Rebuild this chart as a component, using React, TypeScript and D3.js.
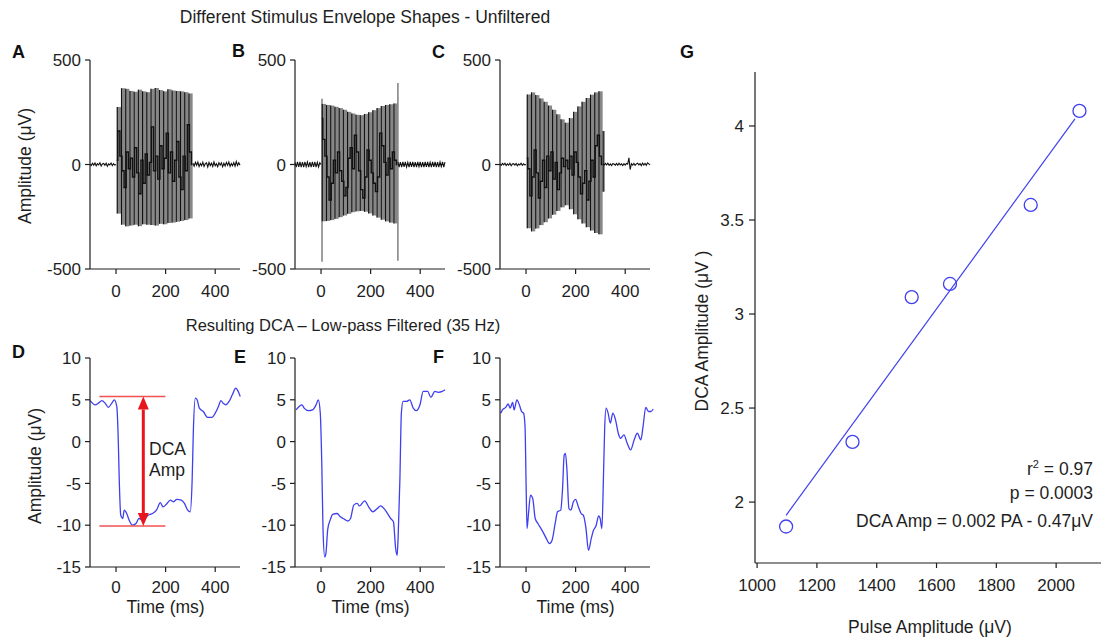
import React from 'react';
import * as d3 from 'd3';

const FONT = '"Liberation Sans", Arial, Helvetica, sans-serif';
const INK = '#1e1e1e';
const BLUE = '#3f3ff0';
const GRAY = '#878787';
const RED = '#e8161c';
const RED_LIGHT = '#f05050';

// ---- axis ticks ----
const timeTicks = [0, 200, 400];
const stimTicks = [-500, 0, 500];
const dcaTicks = [-15, -10, -5, 0, 5, 10];
const pulseTicks = [1000, 1200, 1400, 1600, 1800, 2000];
const dcaAmpTicks = [2, 2.5, 3, 3.5, 4];

// ---- stimulus pulse trains (ms, µV) ----
const pulseOnsets = [3, 20, 37, 54, 71, 88, 105, 122, 139, 156, 173, 190, 207, 224, 241, 258, 275, 292];
const cOnsets = [3, 20, 37, 54, 71, 88, 105, 122, 139, 156, 173, 190, 207, 224, 241, 258, 275, 292, 309];

const aUpper = [275, 365, 362, 352, 348, 358, 350, 346, 362, 366, 356, 350, 360, 354, 352, 350, 346, 340];
const aLower = [-235, -288, -296, -292, -288, -295, -286, -288, -290, -292, -284, -286, -280, -278, -274, -270, -266, -258];

const bUpper = [290, 285, 282, 276, 270, 262, 252, 244, 238, 236, 242, 250, 260, 270, 280, 285, 288, 292];
const bLower = [-272, -270, -266, -260, -252, -244, -236, -228, -224, -222, -226, -234, -244, -254, -264, -272, -278, -282];
const bSpikeTimes = [4, 310];
const bSpikeHigh = [315, 390];
const bSpikeLow = [-465, -460];

const cUpper = [335, 345, 332, 316, 300, 282, 262, 240, 216, 200, 222, 252, 278, 300, 318, 334, 345, 350, 160];
const cLower = [-305, -320, -306, -290, -276, -258, -240, -222, -205, -195, -214, -238, -262, -282, -300, -316, -328, -334, -130];

// sampled waveform inside each train
const midTimes = [3, 11, 20, 28, 37, 45, 54, 62, 71, 79, 88, 96, 105, 113, 122, 130, 139, 147, 156, 164, 173, 181, 190, 198, 207, 215, 224, 232, 241, 249, 258, 266, 275, 283, 292, 300, 308];
const aMid = [20, 160, 40, -30, -110, 60, -20, 30, -60, 80, -40, -140, 20, -90, 50, -50, 10, 180, -30, 40, -70, 90, -20, 30, 150, -40, 60, -80, 20, 110, -60, -120, 40, -30, 190, 60, 0];
const bMid = [220, 120, 40, -60, -170, -90, 20, -40, 60, -30, -80, -150, -110, 30, 80, -20, 140, 60, -30, -120, -160, -60, 70, 20, -40, -90, -130, -60, 150, 90, 10, -50, 30, -20, 60, 20, 0];
const cMid = [30, -20, -150, -60, 70, -40, -160, -80, 20, -110, 40, -30, 60, -70, 10, -120, -40, 30, -10, 20, -20, 40, -50, 60, 10, -60, -140, -90, -30, -170, -80, 20, -60, 90, 140, 40, 0];

// baseline before (-105..0 ms) and after (310..500 ms) the train, 5 ms steps
const preTimes = d3.range(-105, 0.1, 5);
const postTimes = d3.range(310, 500.1, 5);
const aPre = [2, -5, 6, -3, 7, -6, 4, -2, 8, -7, 3, 5, -4, 6, -8, 3, -2, 7, -5, 4, -3, 0];
const bPre = [10, -12, 13, -11, 12, -13, 11, -12, 13, -10, 12, -12, 11, -13, 12, -11, 13, -12, 10, -12, 8, 0];
const cPre = [3, -4, 5, -2, 6, -5, 3, -3, 6, -6, 2, 4, -3, 5, -6, 2, -2, 6, -4, 3, -2, 0];
const aPost = [6, -8, 10, -4, 12, -10, 5, -6, 11, -9, 4, 8, -12, 10, -5, 7, -9, 12, -6, 4, -10, 9, -3, 8, -11, 6, -7, 10, -4, 12, -9, 5, -6, 9, -8, 14, -5, 8, -3];
const bPost = [12, -13, 11, -12, 13, -11, 12, -12, 10, -13, 12, -11, 13, -12, 11, -12, 13, -10, 12, -13, 11, -12, 12, -11, 13, -12, 10, -12, 13, -11, 12, -13, 11, -12, 12, -10, 13, -12, 11];
const cPost = [4, -3, 5, -2, 6, -4, 3, -5, 4, 2, -3, 5, -4, 6, -2, 3, -5, 4, -3, 5, 2, 32, -24, 4, -3, 5, -4, 3, 6, -2, 4, -5, 7, -3, 5, -4, 8, 3, -2];

// ---- low-pass filtered DCA traces (ms, µV) ----
const dTimes = [-104, -84, -71, -57, -44, -31, -17, -7, 3, 9, 13, 19, 27, 33, 43, 53, 67, 80, 93, 109, 129, 147, 163, 179, 189, 203, 219, 232, 245, 263, 276, 289, 299, 307, 312, 320, 327, 336, 352, 369, 387, 400, 413, 423, 432, 443, 456, 469, 483, 493, 501];
const dValues = [4.9, 4.4, 4.6, 4.9, 4.6, 4.1, 4.6, 5.0, 4.2, 0.2, -4.6, -8.8, -9.2, -8.2, -8.6, -9.4, -10.0, -9.8, -9.2, -9.4, -8.8, -8.6, -8.2, -7.3, -7.8, -7.5, -7.0, -7.2, -6.9, -7.0, -7.4, -8.2, -8.4, -4.6, 1.4, 5.2, 5.0, 4.0, 3.6, 2.9, 2.9, 3.4, 4.2, 4.9, 4.6, 4.4, 4.8, 5.6, 6.4, 6.0, 5.4];
const eTimes = [-101, -88, -77, -68, -51, -34, -20, -11, -3, 3, 8, 15, 20, 27, 38, 47, 65, 78, 95, 108, 119, 132, 146, 155, 176, 192, 209, 227, 240, 259, 281, 292, 301, 307, 311, 318, 324, 331, 345, 358, 372, 385, 399, 412, 430, 443, 459, 473, 489, 500];
const eValues = [3.8, 4.2, 4.4, 4.0, 3.7, 3.8, 4.4, 5.0, 3.4, -2.6, -10.5, -13.8, -13.3, -10.5, -9.3, -8.7, -8.6, -9.0, -9.3, -9.5, -9.2, -7.6, -7.4, -7.7, -7.1, -7.8, -8.4, -8.0, -7.7, -8.2, -9.2, -9.6, -12.8, -13.6, -11.4, -4.6, 3.4, 4.8, 4.8, 5.0, 4.0, 3.7, 4.4, 6.0, 6.0, 5.3, 6.0, 5.9, 6.0, 6.2];
const fTimes = [-102, -95, -82, -72, -64, -54, -48, -37, -27, -18, -10, -4, 0, 4, 10, 18, 27, 37, 48, 68, 82, 95, 105, 118, 127, 140, 147, 154, 159, 165, 173, 181, 191, 200, 211, 222, 231, 241, 252, 263, 272, 282, 293, 299, 306, 312, 317, 323, 331, 340, 350, 361, 372, 381, 395, 408, 422, 436, 449, 463, 472, 483, 494, 504, 513];
const fValues = [3.4, 3.8, 4.1, 4.5, 4.0, 4.7, 3.8, 5.0, 4.4, 3.6, 3.4, 1.8, -4.6, -10.4, -8.6, -6.4, -6.8, -9.2, -9.8, -10.8, -11.6, -12.2, -11.8, -9.7, -8.4, -8.2, -5.8, -1.6, -1.4, -3.4, -8.0, -8.2, -7.2, -6.9, -7.8, -8.6, -8.8, -10.2, -13.0, -11.6, -10.6, -10.1, -8.9, -9.2, -10.4, -4.6, 1.4, 4.0, 3.4, 2.2, 3.4, 2.6, 1.0, 0.4, 0.8, -0.2, -1.0, 0.2, 1.0, 0.2, 1.8, 4.1, 3.6, 3.6, 3.9];

// DCA amplitude annotation in panel D
const dcaTop = 5.4;
const dcaBottom = -10.1;
const dcaSpan = [-67, 199];
const dcaArrowTime = 110;

// ---- panel G: pulse amplitude vs DCA amplitude ----
const pulseAmp = [1097, 1319, 1517, 1645, 1915, 2078];
const dcaAmp = [1.87, 2.32, 3.09, 3.16, 3.58, 4.08];
const fitRange = [1097, 2063];

// ---- layout ----
const panelLeft = [90, 295, 500];
const panelWidth = 150;
const timeDomain: [number, number] = [-105, 500];

const txt = { fontFamily: FONT, fill: INK } as const;

function timeScale(left: number) {
  return d3.scaleLinear().domain(timeDomain).range([left, left + panelWidth]);
}

function Axes({ x, y, yTicks, xTicks, tickLabelY, yTop }: any) {
  const [x0] = x.range();
  const x1 = x.range()[1];
  const yBottom = y.range()[0];
  return (
    <g>
      <line x1={x0} x2={x0} y1={yTop} y2={yBottom} stroke={INK} strokeWidth={1.2} />
      <line x1={x0} x2={x1} y1={yBottom} y2={yBottom} stroke={INK} strokeWidth={1.2} />
      {yTicks.map((t: number) => (
        <g key={'y' + t}>
          <line x1={x0 - 5} x2={x0} y1={y(t)} y2={y(t)} stroke={INK} strokeWidth={1.2} />
          <text x={x0 - 9} y={y(t)} dy="0.36em" textAnchor="end" fontSize={17} {...txt}>{t}</text>
        </g>
      ))}
      {xTicks.map((t: number) => (
        <g key={'x' + t}>
          <line x1={x(t)} x2={x(t)} y1={yBottom} y2={yBottom + 5} stroke={INK} strokeWidth={1.2} />
          <text x={x(t)} y={tickLabelY} textAnchor="middle" fontSize={17} {...txt}>{t}</text>
        </g>
      ))}
    </g>
  );
}

function StimPanel({ left, onsets, upper, lower, end, mid, pre, post, spikes }: any) {
  const x = timeScale(left);
  const y = d3.scaleLinear().domain([-500, 500]).range([269, 60]);
  const bounds = onsets.map((t: number, i: number) => [t, i + 1 < onsets.length ? onsets[i + 1] : end]);
  const trace = d3.line<number[]>().x((d) => x(d[0])).y((d) => y(d[1]));
  const stepTrace = d3.line<number[]>().x((d) => x(d[0])).y((d) => y(d[1])).curve(d3.curveStep);
  const prePts = preTimes.map((t, i) => [t, pre[i]]);
  const postPts = postTimes.map((t, i) => [t, post[i]]);
  const midPts = midTimes.map((t, i) => [t, mid[i]]);
  return (
    <g>
      {bounds.map((b: number[], i: number) => (
        <rect key={'c' + i} x={x(b[0])} y={y(upper[i])} width={x(b[1]) - x(b[0])} height={y(lower[i]) - y(upper[i])} fill={GRAY} />
      ))}
      {spikes && spikes.times.map((t: number, i: number) => (
        <line key={'s' + i} x1={x(t)} x2={x(t)} y1={y(spikes.high[i])} y2={y(spikes.low[i])} stroke={GRAY} strokeWidth={1.6} />
      ))}
      {onsets.map((t: number, i: number) => (
        <line key={'p' + i} x1={x(t) + 0.5} x2={x(t) + 0.5} y1={y(upper[i])} y2={y(lower[i])} stroke="#111" strokeWidth={1.1} />
      ))}
      <path d={trace(prePts as any) || ''} fill="none" stroke="#111" strokeWidth={1.1} />
      <path d={trace(postPts as any) || ''} fill="none" stroke="#111" strokeWidth={1.1} />
      <path d={stepTrace(midPts as any) || ''} fill="none" stroke="#111" strokeWidth={1.4} />
      <Axes x={x} y={y} yTicks={stimTicks} xTicks={timeTicks} tickLabelY={297} yTop={y(500)} />
    </g>
  );
}

function DcaPanel({ left, times, values, children }: any) {
  const x = timeScale(left);
  const y = d3.scaleLinear().domain([-15, 10]).range([567, 358]);
  const line = d3.line<number>().x((_, i) => x(times[i])).y((d) => y(d)).curve(d3.curveMonotoneX);
  return (
    <g>
      <path d={line(values) || ''} fill="none" stroke={BLUE} strokeWidth={1.3} />
      <Axes x={x} y={y} yTicks={dcaTicks} xTicks={timeTicks} tickLabelY={593} yTop={y(10)} />
      <text x={x(200)} y={613} textAnchor="middle" fontSize={17.5} {...txt}>Time (ms)</text>
      {children && children(x, y)}
    </g>
  );
}

function DcaAnnotation(x: any, y: any) {
  const ax = x(dcaArrowTime);
  const yt = y(dcaTop);
  const yb = y(dcaBottom);
  const head = 13;
  const hw = 5.5;
  return (
    <g>
      <line x1={x(dcaSpan[0])} x2={x(dcaSpan[1])} y1={yt} y2={yt} stroke={RED_LIGHT} strokeWidth={1.4} />
      <line x1={x(dcaSpan[0])} x2={x(dcaSpan[1])} y1={yb} y2={yb} stroke={RED_LIGHT} strokeWidth={1.4} />
      <line x1={ax} x2={ax} y1={yt + head} y2={yb - head} stroke={RED} strokeWidth={3} />
      <path d={`M${ax},${yt} L${ax - hw},${yt + head} L${ax + hw},${yt + head} Z`} fill={RED} />
      <path d={`M${ax},${yb} L${ax - hw},${yb - head} L${ax + hw},${yb - head} Z`} fill={RED} />
      <text x={149} y={455} fontSize={17.5} {...txt}>DCA</text>
      <text x={149} y={476} fontSize={17.5} {...txt}>Amp</text>
    </g>
  );
}

function ScatterPanel() {
  const x = d3.scaleLinear().domain([993, 2150]).range([755, 1101]);
  const y = d3.scaleLinear().domain([1.676, 4.287]).range([563, 72]);
  const mx = d3.mean(pulseAmp) as number;
  const my = d3.mean(dcaAmp) as number;
  const slope = d3.sum(pulseAmp.map((v, i) => (v - mx) * (dcaAmp[i] - my))) / d3.sum(pulseAmp.map((v) => (v - mx) ** 2));
  const intercept = my - slope * mx;
  const x0 = 755;
  const yb = 563;
  return (
    <g>
      <line x1={x(fitRange[0])} y1={y(slope * fitRange[0] + intercept)} x2={x(fitRange[1])} y2={y(slope * fitRange[1] + intercept)} stroke={BLUE} strokeWidth={1.2} />
      {pulseAmp.map((v, i) => (
        <circle key={i} cx={x(v)} cy={y(dcaAmp[i])} r={6.5} fill="none" stroke={BLUE} strokeWidth={1.3} />
      ))}
      <line x1={x0} x2={x0} y1={72} y2={yb} stroke={INK} strokeWidth={1.2} />
      <line x1={x0} x2={1101} y1={yb} y2={yb} stroke={INK} strokeWidth={1.2} />
      {dcaAmpTicks.map((t) => (
        <g key={'gy' + t}>
          <line x1={x0 - 6} x2={x0} y1={y(t)} y2={y(t)} stroke={INK} strokeWidth={1.2} />
          <text x={x0 - 11} y={y(t)} dy="0.36em" textAnchor="end" fontSize={17} {...txt}>{t}</text>
        </g>
      ))}
      {pulseTicks.map((t) => (
        <g key={'gx' + t}>
          <line x1={x(t)} x2={x(t)} y1={yb} y2={yb + 5} stroke={INK} strokeWidth={1.2} />
          <text x={x(t)} y={591} textAnchor="middle" fontSize={17} {...txt}>{t}</text>
        </g>
      ))}
      <text x={930} y={633} textAnchor="middle" fontSize={17.5} {...txt}>Pulse Amplitude (μV)</text>
      <text transform="translate(708,331) rotate(-90)" textAnchor="middle" fontSize={17.5} {...txt}>DCA Amplitude (μV )</text>
      <text x={1093} y={475} textAnchor="end" fontSize={17.5} {...txt}>
        r<tspan fontSize={11} dy={-7}>2</tspan><tspan dy={7}> = 0.97</tspan>
      </text>
      <text x={1093} y={499} textAnchor="end" fontSize={17.5} {...txt}>p = 0.0003</text>
      <text x={1093} y={527} textAnchor="end" fontSize={17.5} {...txt}>DCA Amp = 0.002 PA - 0.47μV</text>
    </g>
  );
}

export default function App() {
  const letter = { fontFamily: FONT, fill: '#111', fontSize: 18, fontWeight: 700 } as const;
  return (
    <svg width={1102} height={643} style={{ position: 'absolute', left: 0, top: 0, background: '#fff' }}>
      <rect width={1102} height={643} fill="#fff" />
      <text x={365} y={23} textAnchor="middle" fontSize={17.5} {...txt}>Different Stimulus Envelope Shapes - Unfiltered</text>
      <text x={343} y={331} textAnchor="middle" fontSize={16.5} {...txt}>Resulting DCA – Low-pass Filtered (35 Hz)</text>

      <text transform="translate(31,166) rotate(-90)" textAnchor="middle" fontSize={17.5} {...txt}>Amplitude (μV)</text>
      <text transform="translate(41,466) rotate(-90)" textAnchor="middle" fontSize={17.5} {...txt}>Amplitude (μV)</text>

      <StimPanel left={panelLeft[0]} onsets={pulseOnsets} upper={aUpper} lower={aLower} end={309} mid={aMid} pre={aPre} post={aPost} />
      <StimPanel left={panelLeft[1]} onsets={pulseOnsets} upper={bUpper} lower={bLower} end={309} mid={bMid} pre={bPre} post={bPost}
        spikes={{ times: bSpikeTimes, high: bSpikeHigh, low: bSpikeLow }} />
      <StimPanel left={panelLeft[2]} onsets={cOnsets} upper={cUpper} lower={cLower} end={318} mid={cMid} pre={cPre} post={cPost} />

      <DcaPanel left={panelLeft[0]} times={dTimes} values={dValues}>{DcaAnnotation}</DcaPanel>
      <DcaPanel left={panelLeft[1]} times={eTimes} values={eValues} />
      <DcaPanel left={panelLeft[2]} times={fTimes} values={fValues} />

      <ScatterPanel />

      <text x={12} y={58} {...letter}>A</text>
      <text x={232} y={57} {...letter}>B</text>
      <text x={432} y={58} {...letter}>C</text>
      <text x={12} y={358} {...letter}>D</text>
      <text x={234} y={363} {...letter}>E</text>
      <text x={433} y={363} {...letter}>F</text>
      <text x={680} y={58} {...letter}>G</text>
    </svg>
  );
}
